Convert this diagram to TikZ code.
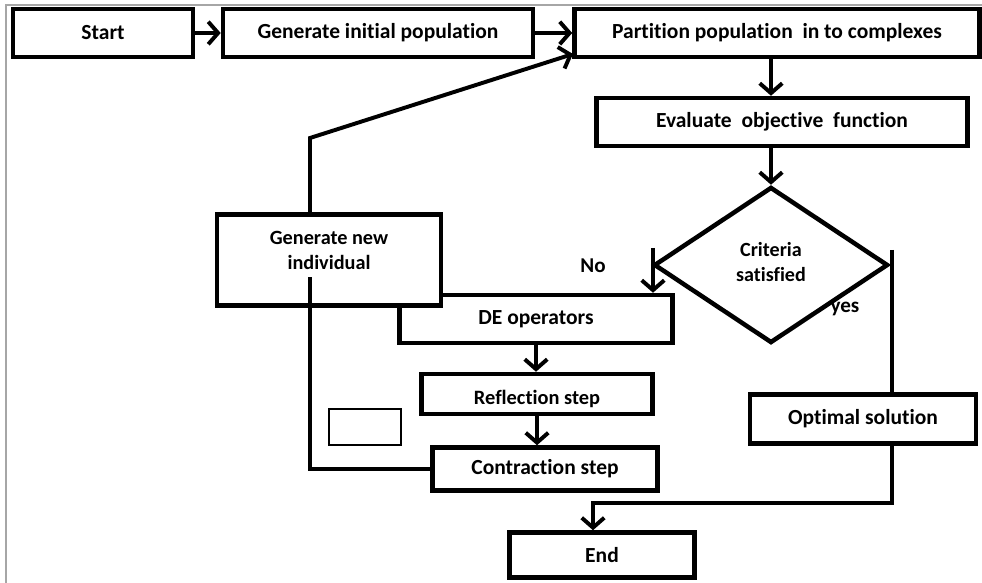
\documentclass[tikz,border=0pt]{standalone}
\usepackage{fontspec}
\setmainfont{Carlito}[Ligatures=NoCommon]
\usetikzlibrary{arrows.meta}
\usetikzlibrary{calc}
\usetikzlibrary{positioning}
\usetikzlibrary{shapes.geometric}
\tikzset{
	>={Straight Barb[length=7pt,width=16pt]},
	punkt/.style={
		rectangle,
		draw=black, line width=3.2pt,
		fill=white,
		inner sep=0pt,
		text centered,
		font=\bfseries\fontsize{15.3}{17}\selectfont},
	entscheid/.style={
		diamond,
		draw=black, line width=3.2pt,
		fill=white,
		inner sep=0pt},
	txt/.style={align=center, inner sep=0pt, font=\bfseries\fontsize{15}{18}\selectfont},
	line/.style={draw, line width=2.8pt},
}
\begin{document}
\begin{tikzpicture}[x=0.025cm, y=-0.025cm]
		\useasboundingbox (0,0) rectangle (982,583);
		\draw[gray!70, line width=1pt] (6,583) -- (6,5) -- (982,5);
		% top row
		\node[punkt, minimum width=4.5cm, minimum height=1.2cm] (start) at (103,33) {Start};
		\node[punkt, minimum width=7.75cm, minimum height=1.2cm] (geninit) at (378,33) {Generate initial population};
		\node[punkt, minimum width=10.125cm, minimum height=1.2cm] (part) at (777,33) {Partition population\ \ in to complexes};
		\node[punkt, minimum width=9.275cm, minimum height=1.2cm] (eval) at (782,122) {Evaluate\ \ objective\ \ function};
		\node[entscheid, minimum width=5.85cm, minimum height=3.9cm] (crit) at (771,265) {};
		\node[txt, font=\bfseries\fontsize{14.3}{18.4}\selectfont] (crittxt) at (771,262) {Criteria\\satisfied};
		% DE loop
		\node[punkt, minimum width=6.825cm, minimum height=1.2cm] (de) at (536,319) {DE operators};
		\node[punkt, minimum width=5.6cm, minimum height=2.275cm] (gennew) at (329,260) {};
		\node[txt, font=\bfseries\fontsize{14.4}{17.7}\selectfont] (gennewtxt) at (329,250) {Generate new\\individual};
		\node[punkt, minimum width=5.775cm, minimum height=1cm, font=\bfseries\fontsize{14.5}{16}\selectfont] (refl) at (537,394) {\raisebox{-2.5mm}[0pt][0pt]{Reflection step}};
		\node[punkt, minimum width=5.625cm, minimum height=1.075cm] (contr) at (545,469) {Contraction\ step};
		\node[draw, line width=0.8pt, minimum width=1.8cm, minimum height=0.9cm] (leer) at (365,427) {};
		% exit
		\node[punkt, minimum width=5.65cm, minimum height=1.225cm] (optsol) at (863,419) {Optimal solution};
		\node[punkt, minimum width=4.625cm, minimum height=1.125cm] (endn) at (602,555) {End};
		\node[txt] (nein) at (593,266) {No};
		\node[txt] (ja) at (845,309) {yes};
		% connectors
		\coordinate (nostart) at (653,248);
		\coordinate (yesstart) at (892,250);
		\coordinate (knick) at (310,138);
		\coordinate (partin) at (573,54);
		\coordinate (gin) at (310,277);
		\coordinate (bend) at (593,503);
		\draw[line, ->] (start) -- (geninit);
		\draw[line, ->] (geninit) -- (part);
		\draw[line, ->] (part.south -| crit.north) -- (eval.north -| crit.north);
		\draw[line, ->] (eval.south -| crit.north) -- (crit.north);
		\draw[line, ->] (nostart) -- (nostart |- de.north);
		\draw[line] (yesstart) -- (yesstart |- optsol.north);
		\draw[line, ->] (optsol.south -| yesstart) |- (bend) -- (bend |- endn.north);
		\draw[line, ->] (de.south) -- (de.south |- refl.north);
		\draw[line, ->] (refl.south) -- (refl.south |- contr.north);
		\draw[line] (contr.west) -| (gin);
		\draw[line, ->] (gennew.north -| knick) -- (knick) -- (partin);
\end{tikzpicture}
\end{document}
